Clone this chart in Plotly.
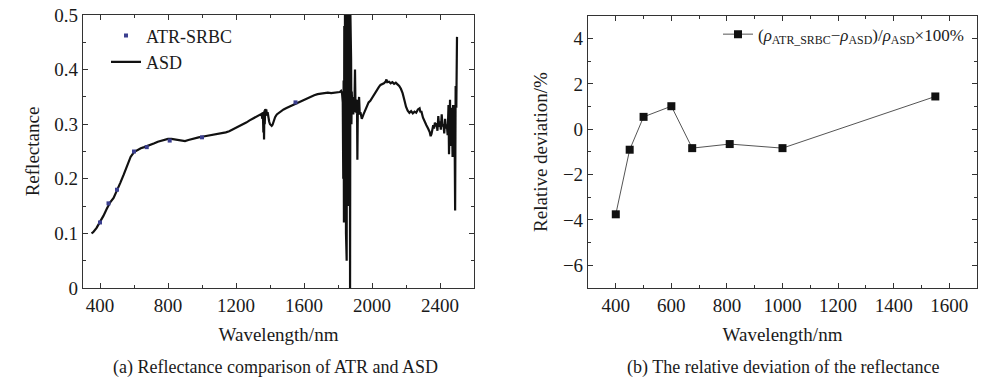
import plotly.graph_objects as go

# ---------------- data ----------------
# Panel (a): ASD field spectrum
ASD_WL = [350, 360, 380, 400, 420, 440, 460, 480, 500, 520, 540, 560, 580, 600, 620, 640, 660, 680, 700,
          720, 740, 760, 780, 800, 820, 840, 860, 880, 900, 920, 940, 960, 980, 1000, 1020, 1040, 1060,
          1080, 1100, 1120, 1140, 1160, 1180, 1200, 1220, 1240, 1260, 1280, 1300, 1320, 1340, 1350,
          1355, 1358, 1361, 1363, 1365, 1367, 1369, 1372, 1375, 1378, 1382, 1386, 1390, 1395, 1400,
          1405, 1410, 1415, 1420, 1430, 1440, 1460, 1480, 1500, 1520, 1540, 1560, 1580, 1600, 1620,
          1640, 1660, 1680, 1700, 1720, 1740, 1760, 1780, 1800, 1810, 1818, 1824, 1828, 1831, 1833,
          1835, 1837, 1839, 1841, 1843, 1845, 1847, 1849, 1851, 1853, 1855, 1857, 1859, 1861, 1863,
          1865, 1867, 1869, 1871, 1873, 1875, 1877, 1879, 1881, 1884, 1887, 1890, 1893, 1896, 1900,
          1903, 1906, 1909, 1912, 1914, 1917, 1920, 1924, 1928, 1932, 1936, 1940, 1950, 1960, 1970,
          1980, 1990, 2000, 2010, 2020, 2030, 2040, 2050, 2060, 2070, 2080, 2085, 2090, 2100, 2110,
          2120, 2130, 2140, 2150, 2160, 2170, 2180, 2190, 2200, 2210, 2220, 2230, 2240, 2250, 2260,
          2270, 2280, 2285, 2290, 2300, 2310, 2320, 2330, 2340, 2345, 2350, 2355, 2360, 2365, 2370,
          2375, 2380, 2385, 2390, 2395, 2400, 2405, 2410, 2415, 2420, 2425, 2430, 2435, 2440, 2445,
          2450, 2453, 2456, 2459, 2462, 2465, 2468, 2471, 2474, 2477, 2480, 2483, 2486, 2489, 2492,
          2496, 2500]
ASD_R = [0.100, 0.102, 0.110, 0.120, 0.132, 0.145, 0.157, 0.165, 0.178, 0.193, 0.208, 0.225, 0.240,
         0.249, 0.253, 0.256, 0.258, 0.260, 0.262, 0.265, 0.268, 0.270, 0.272, 0.273, 0.273, 0.272,
         0.271, 0.269, 0.269, 0.271, 0.273, 0.275, 0.276, 0.277, 0.278, 0.280, 0.281, 0.282, 0.283,
         0.284, 0.285, 0.287, 0.290, 0.293, 0.296, 0.300, 0.303, 0.307, 0.310, 0.314, 0.317, 0.319,
         0.310, 0.322, 0.285, 0.318, 0.272, 0.325, 0.300, 0.328, 0.315, 0.327, 0.318, 0.322, 0.312,
         0.305, 0.300, 0.298, 0.297, 0.299, 0.305, 0.313, 0.318, 0.323, 0.327, 0.330, 0.333, 0.336,
         0.338, 0.341, 0.344, 0.347, 0.350, 0.353, 0.355, 0.356, 0.357, 0.358, 0.357, 0.358, 0.358,
         0.359, 0.361, 0.356, 0.340, 0.200, 0.380, 0.120, 0.480, 0.150, 0.500, 0.250, 0.500, 0.100,
         0.500, 0.050, 0.500, 0.200, 0.500, 0.150, 0.500, 0.300, 0.500, 0.220, 0.500, 0.000, 0.500,
         0.000, 0.420, 0.300, 0.360, 0.325, 0.350, 0.318, 0.340, 0.322, 0.400, 0.330, 0.345, 0.320,
         0.330, 0.235, 0.345, 0.325, 0.350, 0.318, 0.322, 0.312, 0.310, 0.318, 0.325, 0.330, 0.340,
         0.343, 0.348, 0.355, 0.360, 0.365, 0.368, 0.372, 0.373, 0.375, 0.378, 0.382, 0.377, 0.378,
         0.375, 0.377, 0.374, 0.376, 0.373, 0.370, 0.365, 0.357, 0.345, 0.332, 0.325, 0.321, 0.324,
         0.320, 0.323, 0.321, 0.327, 0.329, 0.322, 0.324, 0.312, 0.303, 0.298, 0.292, 0.285, 0.278,
         0.282, 0.290, 0.298, 0.292, 0.303, 0.296, 0.302, 0.288, 0.315, 0.295, 0.305, 0.290, 0.318,
         0.296, 0.300, 0.283, 0.310, 0.292, 0.300, 0.280, 0.335, 0.245, 0.305, 0.345, 0.260, 0.330,
         0.285, 0.300, 0.240, 0.335, 0.260, 0.335, 0.280, 0.142, 0.370, 0.330, 0.460]

# Panel (a): ATR-SRBC retrieved reflectance
ATR_WL = [400, 450, 500, 600, 675, 810, 1000, 1550]
ATR_R = [0.120, 0.155, 0.180, 0.250, 0.258, 0.270, 0.276, 0.340]

# Panel (b): relative deviation (%)
DEV_WL = [400, 450, 500, 600, 675, 810, 1000, 1550]
DEV = [-3.75, -0.90, 0.55, 1.02, -0.83, -0.65, -0.83, 1.45]

# tick labels
X1_TICKS = [400, 800, 1200, 1600, 2000, 2400]
Y1_TICKS = [0, 0.1, 0.2, 0.3, 0.4, 0.5]
Y1_LABELS = ["0", "0.1", "0.2", "0.3", "0.4", "0.5"]
X2_TICKS = [400, 600, 800, 1000, 1200, 1400, 1600]
Y2_TICKS = [-6, -4, -2, 0, 2, 4]
Y2_LABELS = ["\u22126", "\u22124", "\u22122", "0", "2", "4"]

FONT = "Liberation Serif"
AXC = "#333333"
TXT = "#1a1a1a"

fig = go.Figure()

fig.add_trace(go.Scatter(x=ASD_WL, y=ASD_R, mode="lines", name="ASD",
                         line=dict(color="#111111", width=2.2), xaxis="x", yaxis="y",
                         legend="legend", cliponaxis=True))
fig.add_trace(go.Scatter(x=ATR_WL, y=ATR_R, mode="markers", name="ATR-SRBC",
                         marker=dict(symbol="square", size=4, color="#3b3f8f"),
                         xaxis="x", yaxis="y", legend="legend"))
fig.add_trace(go.Scatter(x=DEV_WL, y=DEV, mode="lines+markers",
                         name="(<i>ρ</i><sub>ATR_SRBC</sub>\u2212<i>ρ</i><sub>ASD</sub>)/<i>ρ</i><sub>ASD</sub>\u00d7100%",
                         line=dict(color="#555555", width=1),
                         marker=dict(symbol="square", size=8, color="#111111"),
                         xaxis="x2", yaxis="y2", legend="legend2"))

common = dict(showline=True, linecolor=AXC, linewidth=1.2, mirror="ticks", ticks="inside",
              ticklen=5, tickwidth=1, tickcolor=AXC, showgrid=False, zeroline=False,
              automargin=False,
              tickfont=dict(family=FONT, size=19, color=TXT),
              title_font=dict(family=FONT, size=19, color=TXT))

fig.update_layout(
    width=1000, height=386, margin=dict(l=0, r=0, t=0, b=0, autoexpand=False),
    paper_bgcolor="white", plot_bgcolor="white",
    font=dict(family=FONT, size=18, color=TXT),
    xaxis=dict(domain=[0.083, 0.474], range=[300, 2600], anchor="y", tickvals=X1_TICKS,
               minor=dict(dtick=200, ticks="inside", ticklen=3, tickcolor=AXC),
               title=dict(text="Wavelength/nm", standoff=12), **common),
    yaxis=dict(domain=[0.254, 0.961], range=[0, 0.5], anchor="x", tickvals=Y1_TICKS,
               ticktext=Y1_LABELS,
               minor=dict(dtick=0.05, ticks="inside", ticklen=3, tickcolor=AXC),
               title=dict(text="Reflectance", standoff=9), **common),
    xaxis2=dict(domain=[0.588, 0.977], range=[300, 1700], anchor="y2", tickvals=X2_TICKS,
                minor=dict(dtick=100, ticks="inside", ticklen=3, tickcolor=AXC),
                title=dict(text="Wavelength/nm", standoff=12), **common),
    yaxis2=dict(domain=[0.254, 0.9585], range=[-7, 5], anchor="x2", tickvals=Y2_TICKS,
                ticktext=Y2_LABELS,
                minor=dict(dtick=1, ticks="inside", ticklen=3, tickcolor=AXC),
                title=dict(text="Relative deviation/%", standoff=10), **common),
    legend=dict(x=0.106, y=0.955, xanchor="left", yanchor="top", bgcolor="rgba(0,0,0,0)",
                traceorder="reversed", font=dict(family=FONT, size=18), tracegroupgap=0,
                itemwidth=30),
    legend2=dict(x=0.718, y=0.957, xanchor="left", yanchor="top", bgcolor="rgba(0,0,0,0)",
                 font=dict(family=FONT, size=17), itemwidth=30),
    annotations=[
        dict(text="(a) Reflectance comparison of ATR and ASD", x=0.275, y=0.047,
             xref="paper", yref="paper", showarrow=False, xanchor="center", yanchor="middle",
             font=dict(family=FONT, size=18, color=TXT)),
        dict(text="(b) The relative deviation of the reflectance", x=0.7835, y=0.047,
             xref="paper", yref="paper", showarrow=False, xanchor="center", yanchor="middle",
             font=dict(family=FONT, size=18, color=TXT)),
    ],
)

fig.write_html("out.html", config={"displayModeBar": False},
               post_script="document.body.style.margin='0';document.body.style.overflow='hidden';")
